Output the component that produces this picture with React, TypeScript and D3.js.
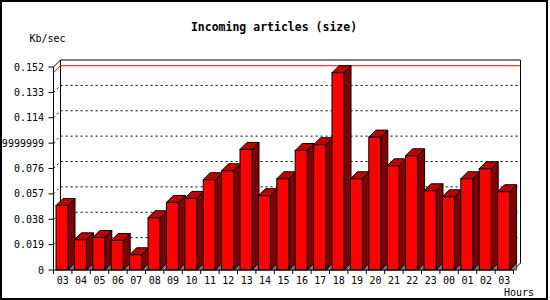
import React from "react";
import * as d3 from "d3";

const hours = ["03","04","05","06","07","08","09","10","11","12","13","14","15","16","17","18","19","20","21","22","23","00","01","02","03"];
const values = [0.0483,0.0226,0.0243,0.0221,0.0114,0.0391,0.0506,0.0536,0.0676,0.0743,0.0903,0.0556,0.0683,0.0895,0.0938,0.1477,0.0683,0.0995,0.0780,0.0855,0.0593,0.0548,0.0683,0.0758,0.0586];
const tickValues = [0,0.019,0.038,0.057,0.076,0.095,0.114,0.133,0.152];
const tickLabels = ["0","0.019","0.038","0.057","0.076","0.09499999999999999","0.114","0.133","0.152"];
const title = "Incoming articles (size)";
const yUnit = "Kb/sec";
const xUnit = "Hours";

const W = 550, H = 300;
const X0 = 53.5, X1 = 513.5, BASE = 270, TOP = 67, D = 7;
const mono = "'DejaVu Sans Mono', 'Liberation Mono', monospace";

export default function App() {
  const y = d3.scaleLinear().domain([0, 0.152]).range([BASE, TOP]);
  const x = d3.scaleBand<number>().domain(d3.range(hours.length)).range([X0, X1]).paddingInner(0).paddingOuter(0);
  const slot = x.bandwidth();
  const faceOff = 2.5, faceW = 12;
  const maxV = d3.max(values) as number;
  const pts = (p: [number, number][]) => p.map((q) => q.join(",")).join(" ");

  return (
    <svg width={W} height={H} style={{ position: "absolute", left: 0, top: 0, background: "#fff" }}>
      <rect x={0} y={0} width={W} height={H} fill="#fff" />
      <rect x={1} y={1} width={546} height={298} fill="none" stroke="#000" strokeWidth={2} />
      <text x={274} y={31} textAnchor="middle" fontFamily={mono} fontWeight="bold" fontSize={11.5} fill="#000">{title}</text>
      <text x={29.5} y={42} fontFamily={mono} fontSize={10} fill="#000">{yUnit}</text>

      {/* back wall frame */}
      <polyline points={pts([[X0, y(0.152)], [X0 + D, y(0.152) - D], [X1 + D, y(0.152) - D], [X1 + D, BASE - D], [X1, BASE]])} fill="none" stroke="#000" strokeWidth={1} />
      <line x1={X0 + D} y1={y(0.152) - D} x2={X0 + D} y2={BASE - D} stroke="#000" />

      {/* gridlines */}
      {tickValues.slice(1, -1).map((v, i) => (
        <polyline key={"g" + i} points={pts([[X0, y(v)], [X0 + D, y(v) - D], [X1 + D, y(v) - D]])} fill="none" stroke="#000" strokeDasharray="2,3" />
      ))}
      {/* max line */}
      <polyline points={pts([[X0, y(maxV)], [X0 + D, y(maxV) - D], [X1 + D, y(maxV) - D]])} fill="none" stroke="#f00" />

      {/* bars */}
      {values.map((v, i) => {
        const fx = (x(i) as number) + faceOff;
        const yt = y(v);
        const r = fx + faceW;
        return (
          <g key={"b" + i}>
            <polygon points={pts([[r, BASE], [r + D, BASE - D], [r + D, BASE]])} fill="#808080" stroke="#000" strokeWidth={0.6} />
            <polygon points={pts([[r, yt], [r + D, yt - D], [r + D, BASE - D], [r, BASE]])} fill="#800000" stroke="#000" />
            <polygon points={pts([[fx, yt], [fx + D, yt - D], [r + D, yt - D], [r, yt]])} fill="#c00000" stroke="#000" />
            <rect x={fx} y={yt} width={faceW} height={BASE - yt} fill="#f00" stroke="#000" />
          </g>
        );
      })}

      {/* front axes */}
      <line x1={X0} y1={TOP} x2={X0} y2={BASE} stroke="#000" />
      <line x1={X0} y1={BASE} x2={X1} y2={BASE} stroke="#000" />

      {tickValues.map((v, i) => (
        <g key={"t" + i}>
          <line x1={X0 - 5} y1={y(v)} x2={X0} y2={y(v)} stroke="#000" />
          <text x={44} y={y(v) + 3.5} textAnchor="end" fontFamily={mono} fontSize={10} fill="#000">{tickLabels[i]}</text>
        </g>
      ))}

      {d3.range(hours.length + 1).map((i) => {
        const xx = X0 + i * slot;
        return <line key={"xt" + i} x1={xx} y1={BASE} x2={xx} y2={BASE + 4} stroke="#000" />;
      })}
      {hours.map((h, i) => (
        <text key={"xl" + i} x={(x(i) as number) + slot / 2} y={283.5} textAnchor="middle" fontFamily={mono} fontSize={10} fill="#000">{h}</text>
      ))}
      <text x={504} y={296} fontFamily={mono} fontSize={10} fill="#000">{xUnit}</text>
    </svg>
  );
}
